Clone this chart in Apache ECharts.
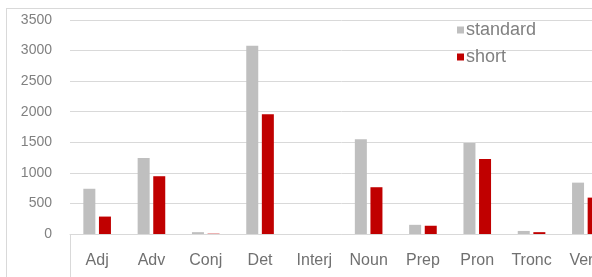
<!DOCTYPE html>
<html>
<head>
<meta charset="utf-8">
<script src="https://cdn.jsdelivr.net/npm/echarts@6/dist/echarts.min.js"></script>
<style>
  html, body { margin: 0; padding: 0; background: #fff; overflow: hidden; width: 592px; height: 277px; }
  #frame { position: absolute; left: 6px; top: 8px; width: 700px; height: 400px; border: 1px solid #d9d9d9; }
  /* the original picture is cropped on the right: the plot runs past the window edge */
  #chart { position: absolute; left: 0; top: 0; width: 620px; height: 277px; }
</style>
</head>
<body>
<div id="frame"></div>
<div id="chart"></div>
<script>
// categories (parts of speech)
const categories = ['Adj', 'Adv', 'Conj', 'Det', 'Interj', 'Noun', 'Prep', 'Pron', 'Tronc', 'Verb']
// bar values
const standardValues = [740, 1245, 30, 3080, 0, 1550, 150, 1490, 50, 840]
const shortValues = [285, 945, 5, 1960, 0, 765, 135, 1225, 30, 595]
const yTicks = { min: 0, max: 3500, interval: 500 }

const chart = echarts.init(document.getElementById('chart'), null, { renderer: 'canvas' })

const labelFont = 'Liberation Sans, Arial, sans-serif'

chart.setOption({
  animation: false,
  grid: { left: 70, right: 7, top: 20, bottom: 43 },
  legend: {
    orient: 'vertical',
    left: 452,
    top: 16,
    itemWidth: 7,
    itemHeight: 7,
    itemGap: 9,
    icon: 'rect',
    textStyle: { color: '#808080', fontSize: 18, fontFamily: labelFont, padding: [0, 0, 0, -3] },
    data: ['standard', 'short']
  },
  xAxis: {
    type: 'category',
    data: categories,
    boundaryGap: true,
    axisLine: { lineStyle: { color: '#d9d9d9', width: 1 } },
    axisTick: {
      show: true,
      length: 45,
      interval: (i) => i === 0,
      lineStyle: { color: '#d9d9d9' }
    },
    axisLabel: { color: '#707070', fontSize: 16, fontFamily: labelFont, margin: 19, interval: 0 }
  },
  yAxis: {
    type: 'value',
    min: yTicks.min,
    max: yTicks.max,
    interval: yTicks.interval,
    axisLine: { show: false },
    axisTick: { show: false },
    splitLine: { lineStyle: { color: '#d9d9d9', width: 1 } },
    axisLabel: {
      color: '#808080',
      fontSize: 14,
      fontFamily: labelFont,
      margin: 18,
      formatter: (v) => String(v)
    }
  },
  series: [
    {
      name: 'standard',
      type: 'bar',
      data: standardValues,
      barWidth: 12,
      barGap: '30%',
      itemStyle: { color: '#bfbfbf' }
    },
    {
      name: 'short',
      type: 'bar',
      data: shortValues,
      barWidth: 12,
      itemStyle: { color: '#c00000' }
    }
  ]
})
</script>
</body>
</html>
